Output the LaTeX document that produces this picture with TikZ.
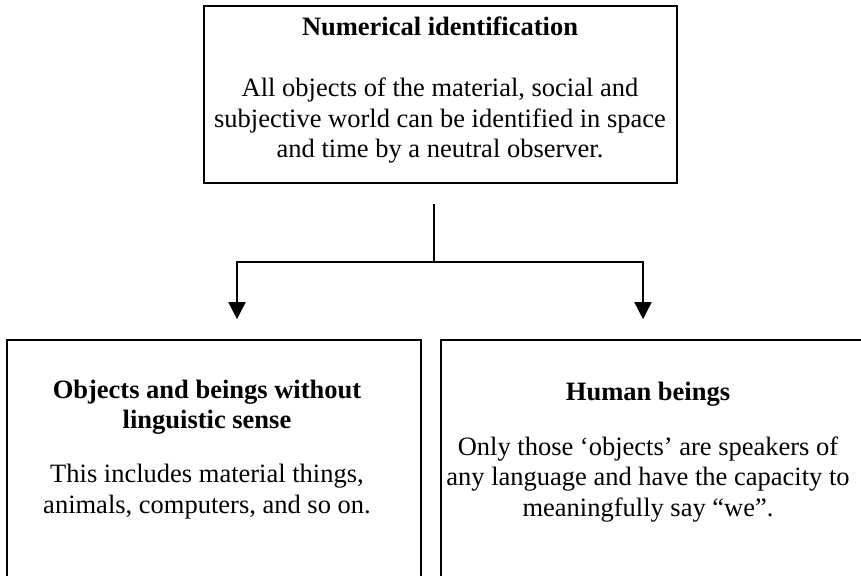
\documentclass[tikz,border=0pt]{standalone}
\usepackage{fontspec}
\setmainfont{Liberation Serif}
\usetikzlibrary{arrows.meta}
\begin{document}
\begin{tikzpicture}[x=1pt,y=-1pt,
  box/.style={draw, line width=1.6pt, inner sep=0pt},
  txt/.style={font=\fontsize{26.5}{30.5}\selectfont, align=center, inner sep=0pt, anchor=base},
  ttl/.style={txt, font=\fontsize{26.5}{30}\selectfont\bfseries},
  conn/.style={line width=1.6pt},
  arr/.style={conn, -{Triangle[width=17pt,length=17pt]}, shorten >=20pt}]
\useasboundingbox (0,0) rectangle (861,575);
\clip (0,0) rectangle (861,575);
% boxes
\node[box, minimum width=473pt, minimum height=177pt] (top) at (440.5,94.5) {};
\node[box, minimum width=414pt, minimum height=280pt] (left) at (214,480) {};
\node[box, minimum width=459pt, minimum height=280pt] (right) at (670.5,480) {};
% texts (base anchor = baseline of the last line)
\node[ttl] (toptitle) at (440,36) {Numerical identification};
\node[txt] (topbody) at (440,157.5) {All objects of the material, social and\\subjective world can be identified in space\\and time by a neutral observer.};
\node[ttl] (ltitle) at (207,428) {Objects and beings without\\linguistic sense};
\node[txt] (lbody) at (207,513) {This includes material things,\\animals, computers, and so on.};
\node[ttl] (rtitle) at (648,400) {Human beings};
\node[txt] (rbody) at (648,516) {Only those ‘objects’ are speakers of\\any language and have the capacity to\\meaningfully say “we”.};
% connectors
\coordinate (s) at ([xshift=-6.5pt,yshift=-20pt]top.south);
\coordinate (j) at (434,262);
\coordinate (jl) at (237,262);
\coordinate (jr) at (643,262);
\draw[conn] (s) -- (j);
\draw[arr] (j) -- (jl) -- (jl |- left.north);
\draw[arr] (j) -- (jr) -- (jr |- right.north);
\end{tikzpicture}
\end{document}
